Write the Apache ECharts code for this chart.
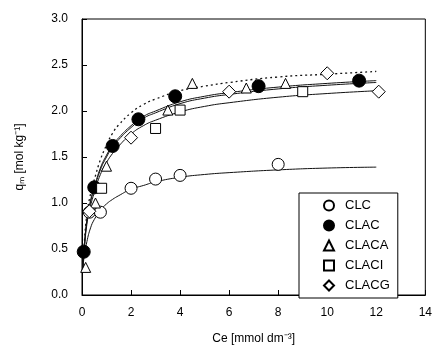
<!DOCTYPE html>
<html>
<head>
<meta charset="utf-8">
<script src="https://cdn.jsdelivr.net/npm/echarts@6/dist/echarts.min.js"></script>
<style>
  html, body { margin: 0; padding: 0; background: #fff; }
  #chart { width: 435px; height: 350px; }
</style>
</head>
<body>
<div id="chart"></div>
<script>
// measured points [Ce, qm]
const clc = [[0.3, 0.9], [0.75, 0.9], [2.0, 1.16], [3.0, 1.26], [4.0, 1.3], [8.0, 1.42]]
const clac = [[0.07, 0.47], [0.5, 1.17], [1.25, 1.62], [2.3, 1.91], [3.8, 2.16], [7.2, 2.27], [11.3, 2.33]]
const claca = [[0.15, 0.3], [0.55, 1.0], [1.0, 1.4], [3.5, 2.01], [4.5, 2.3], [6.7, 2.25], [8.3, 2.3]]
const claci = [[0.8, 1.16], [3.0, 1.81], [4.0, 2.01], [9.0, 2.21]]
const clacg = [[0.3, 0.91], [2.0, 1.71], [6.0, 2.21], [10.0, 2.41], [12.1, 2.21]]

// fitted curves
const curveX = [0.03, 0.08, 0.2, 0.35, 0.5, 0.75, 1, 1.25, 1.5, 2, 2.5, 3, 4, 5, 6, 8, 10, 12]
const fitClc = [0.28, 0.4, 0.58, 0.73, 0.82, 0.92, 0.99, 1.04, 1.08, 1.15, 1.19, 1.23, 1.28, 1.31, 1.33, 1.36, 1.38, 1.39]
const fitDot = [0.32, 0.52, 0.88, 1.1, 1.25, 1.47, 1.63, 1.76, 1.85, 1.98, 2.07, 2.13, 2.22, 2.27, 2.31, 2.37, 2.4, 2.43]
const fitA = [0.3, 0.48, 0.82, 1.03, 1.17, 1.38, 1.52, 1.63, 1.71, 1.84, 1.94, 2.0, 2.1, 2.16, 2.2, 2.26, 2.3, 2.33]
const fitB = [0.29, 0.47, 0.8, 1.01, 1.15, 1.36, 1.5, 1.61, 1.69, 1.82, 1.92, 1.98, 2.08, 2.14, 2.18, 2.24, 2.28, 2.31]
const fitC = [0.28, 0.45, 0.77, 0.97, 1.11, 1.31, 1.44, 1.54, 1.62, 1.75, 1.84, 1.9, 1.99, 2.05, 2.09, 2.15, 2.19, 2.22]

const xTicks = [0, 2, 4, 6, 8, 10, 12, 14]
const yTicks = [0.0, 0.5, 1.0, 1.5, 2.0, 2.5, 3.0]

const font = 'Liberation Sans, Arial, sans-serif'
const chart = echarts.init(document.getElementById('chart'))

const pair = (ys) => curveX.map((x, i) => [x, ys[i]])
const fitLine = (ys, type) => ({
  type: 'line',
  data: pair(ys),
  smooth: true,
  showSymbol: false,
  symbol: 'none',
  silent: true,
  lineStyle: { color: '#111', width: type ? 1.3 : 1, type: type || 'solid' },
  z: 1
})
const pts = (name, data, symbol, size, filled) => ({
  name: name,
  type: 'scatter',
  data: data,
  symbol: symbol,
  symbolSize: size,
  itemStyle: {
    color: filled ? '#000' : '#fff',
    borderColor: '#000',
    borderWidth: 1,
    opacity: 1
  },
  z: 5
})

chart.setOption({
  animation: false,
  textStyle: { fontFamily: font },
  grid: {
    left: 82, right: 7, top: 19, bottom: 55,
    show: true, borderColor: '#000', borderWidth: 1
  },
  legend: {
    data: ['CLC', 'CLAC', 'CLACA', 'CLACI', 'CLACG'],
    orient: 'vertical',
    left: 299, top: 193,
    width: 102,
    padding: [6, 8, 6, 24],
    itemGap: 7,
    itemWidth: 10,
    itemHeight: 10,
    borderColor: '#000',
    borderWidth: 1,
    backgroundColor: '#fff',
    textStyle: { fontFamily: font, fontSize: 13, color: '#000', padding: [0, 0, 0, 6] }
  },
  xAxis: {
    type: 'value',
    min: 0, max: 14, interval: 2,
    name: 'Ce [mmol dm⁻³]',
    nameLocation: 'middle',
    nameGap: 38,
    nameTextStyle: { fontFamily: font, fontSize: 12, color: '#000' },
    axisLine: { lineStyle: { color: '#000' } },
    axisTick: { inside: true, length: 5, lineStyle: { color: '#000' } },
    axisLabel: { color: '#000', fontSize: 12, margin: 12, fontFamily: font },
    splitLine: { show: false }
  },
  yAxis: {
    type: 'value',
    min: 0, max: 3, interval: 0.5,
    name: 'qₘ [mol kg⁻¹]',
    nameLocation: 'middle',
    nameGap: 56,
    nameTextStyle: { fontFamily: font, fontSize: 12, color: '#000' },
    axisLine: { show: true, lineStyle: { color: '#000' } },
    axisTick: { inside: true, length: 5, lineStyle: { color: '#000' } },
    axisLabel: {
      color: '#000', fontSize: 12, margin: 14, fontFamily: font,
      formatter: (v) => v.toFixed(1)
    },
    splitLine: { show: false }
  },
  series: [
    fitLine(fitClc),
    fitLine(fitDot, [2, 3]),
    fitLine(fitA),
    fitLine(fitB),
    fitLine(fitC),
    pts('CLC', clc, 'circle', 12, false),
    pts('CLAC', clac, 'circle', 13, true),
    pts('CLACA', claca, 'triangle', 10, false),
    pts('CLACI', claci, 'rect', 10, false),
    pts('CLACG', clacg, 'diamond', 13, false)
  ]
})
</script>
</body>
</html>
